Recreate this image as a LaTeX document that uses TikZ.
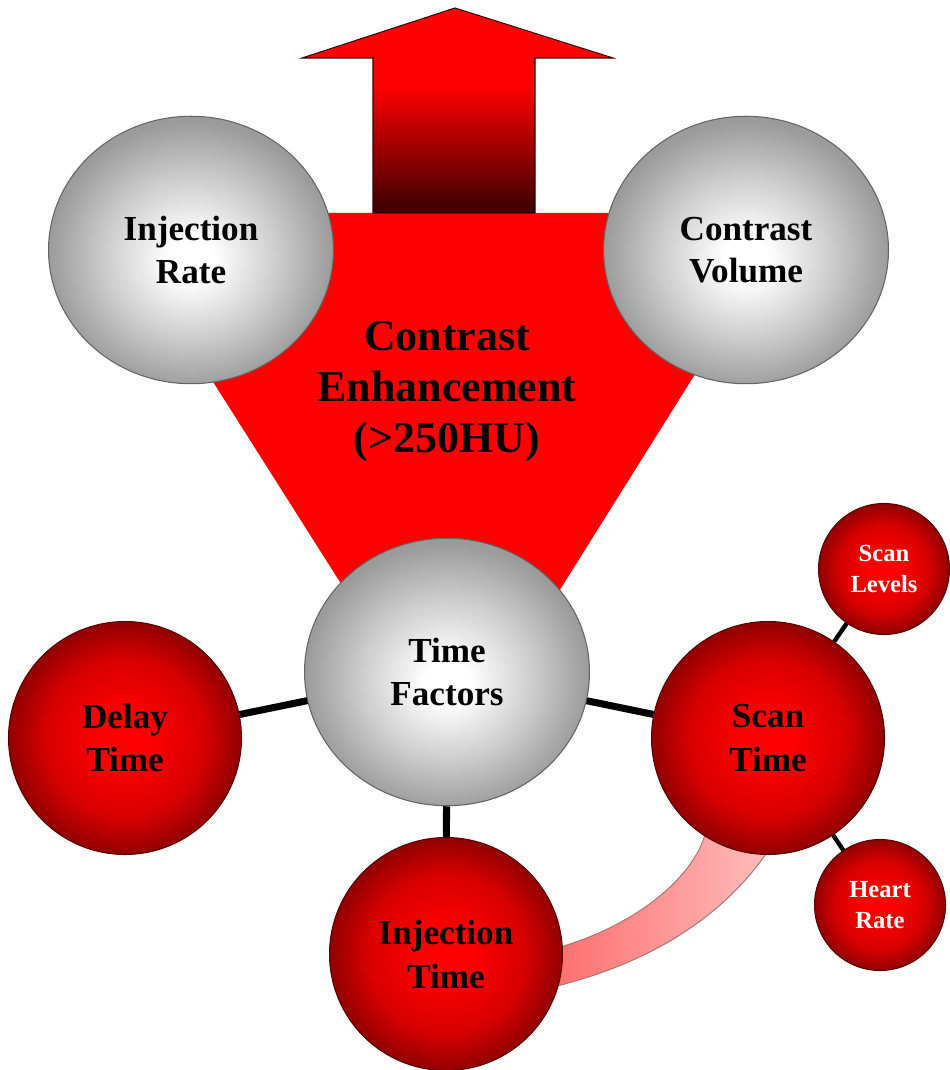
\documentclass[tikz,border=0pt]{standalone}
\usepackage{fontspec}
\setmainfont{Liberation Serif}
\usetikzlibrary{shapes.geometric}
\definecolor{ballred}{RGB}{255,0,0}
\definecolor{redmid}{RGB}{215,0,0}
\definecolor{balldark}{RGB}{145,0,0}
\definecolor{ballrim}{RGB}{90,0,0}
\definecolor{greymid}{RGB}{205,205,205}
\definecolor{greyedge}{RGB}{155,155,155}
\definecolor{greyrim}{RGB}{100,100,100}
\definecolor{arrowdark}{RGB}{55,0,0}
\definecolor{bandpink}{RGB}{255,190,190}
\definecolor{bandsalmon}{RGB}{255,105,105}
\definecolor{bandedge}{RGB}{170,120,120}
\pgfdeclareradialshading{greysphere}{\pgfpoint{0bp}{-2bp}}{color(0bp)=(white); color(4bp)=(white); color(15bp)=(greymid); color(25bp)=(greyedge); color(50bp)=(greyedge)}
\pgfdeclareradialshading{redsphere}{\pgfpoint{0bp}{0bp}}{color(0bp)=(ballred); color(5bp)=(ballred); color(17bp)=(redmid); color(25bp)=(balldark); color(50bp)=(balldark)}
\pgfdeclareverticalshading{arrowshade}{100bp}{color(0bp)=(arrowdark); color(25bp)=(arrowdark); color(56bp)=(ballred); color(100bp)=(ballred)}
\tikzset{
  greyball/.style={ellipse, minimum width=5.7cm, minimum height=5.35cm, shade, shading=greysphere,
                   draw=greyrim, line width=0.6pt, align=center, font=\fontsize{20}{24}\selectfont\bfseries},
  redball/.style={circle, minimum size=4.66cm, shade, shading=redsphere, draw=ballrim, line width=0.6pt,
                  align=center, font=\fontsize{20}{25}\selectfont\bfseries},
  smallball/.style={circle, minimum size=2.62cm, shade, shading=redsphere, draw=ballrim, line width=0.6pt,
                    text=white, align=center, font=\fontsize{14}{17.5}\selectfont\bfseries},
  bigtext/.style={align=center, font=\fontsize{25}{29}\selectfont\bfseries},
  link/.style={line width=4pt},
  thinlink/.style={line width=2.5pt},
}
\begin{document}
\begin{tikzpicture}[x=0.02cm,y=-0.02cm]
  \fill[white] (0,0) rectangle (949,1070);
  \useasboundingbox (0,0) rectangle (949,1070);
  \fill[ballred] (106,213) -- (796,213) -- (541,620) -- (364,620) -- cycle;
  \shade[shading=arrowshade, draw=arrowdark, line width=0.6pt]
    (455,8) -- (613,58) -- (535,58) -- (535,213) -- (373,213) -- (373,58) -- (302,58) -- cycle;
  \shade[left color=bandsalmon, right color=bandpink, draw=bandedge, line width=0.6pt]
    (705,835) .. controls (690,885) and (620,935) .. (540,952) -- (540,990)
    .. controls (640,968) and (722,922) .. (772,845) -- cycle;
  \node[greyball] (rate) at (191,250) {Injection\\Rate};
  \node[greyball] (volume) at (746,250) {Contrast\\Volume};
  \node[bigtext] (enhance) at (447,392) {Contrast\\Enhancement\\(>250HU)};
  \node[greyball] (factors) at (447,672) {Time\\Factors};
  \node[redball] (delay) at (125,738) {Delay\\Time};
  \node[redball] (scan) at (768,738) {Scan\\Time};
  \node[redball] (inject) at (446,954) {Injection\\Time};
  \node[smallball] (levels) at (884,569) {Scan\\Levels};
  \node[smallball] (heart) at (880,905) {Heart\\Rate};
  \draw[link] (factors) to (delay);
  \draw[link] (factors) to (scan);
  \draw[link] (factors) to (inject);
  \draw[thinlink] (scan) to (levels);
  \draw[thinlink] (scan) to (heart);
\end{tikzpicture}
\end{document}
